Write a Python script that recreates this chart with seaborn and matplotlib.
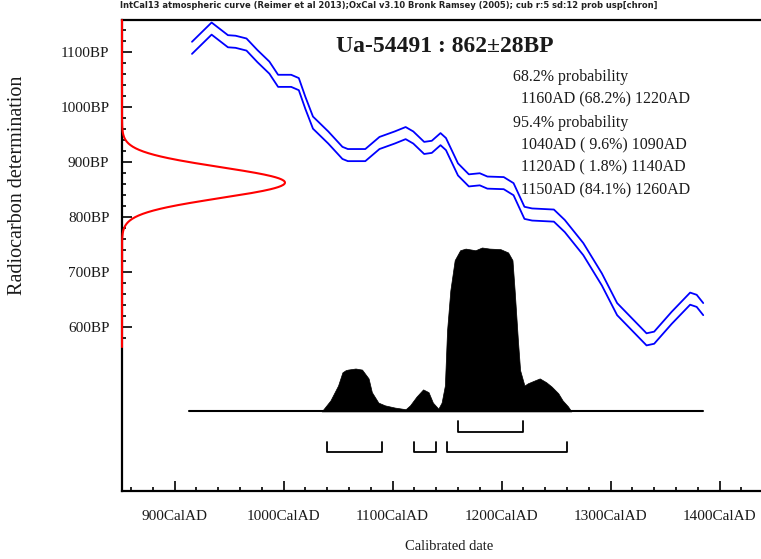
import numpy as np
import pandas as pd
import seaborn as sns
import matplotlib.pyplot as plt

# measurement
lab_code = "Ua-54491"
c14_age = 862
c14_err = 28

# calibration curve (IntCal13)
cal_years = [916, 934, 949, 956, 966, 976, 987, 995, 1007, 1014, 1020, 1027, 1041,
             1054, 1059, 1075, 1088, 1102, 1112, 1119, 1129, 1136, 1144, 1149, 1160,
             1170, 1180, 1187, 1202, 1211, 1221, 1228, 1248, 1258, 1275, 1292, 1306,
             1333, 1340, 1356, 1373, 1379, 1385]
cal_bp = [1107, 1142, 1119, 1118, 1113, 1092, 1071, 1047, 1047, 1041, 1007, 971, 944,
          916, 912, 912, 934, 944, 952, 944, 925, 927, 941, 932, 886,
          866, 868, 862, 861, 850, 807, 804, 802, 783, 741, 686, 632,
          577, 580, 616, 651, 647, 632]
cal_sigma = 11

# calibrated probability distribution (relative height)
post_years = [1035, 1043, 1050, 1054, 1057, 1059, 1066, 1072, 1078, 1081, 1087, 1093,
              1102, 1112, 1116, 1122, 1128, 1133, 1137, 1142, 1145, 1148, 1150, 1153,
              1157, 1162, 1167, 1176, 1182, 1189, 1199, 1206, 1210, 1212, 1215, 1217,
              1221, 1224, 1230, 1235, 1241, 1246, 1252, 1256, 1261, 1264]
post_height = [0, 20, 47, 71, 75, 76, 78, 76, 60, 35, 16, 11,
               7, 4, 11, 27, 40, 35, 16, 5, 16, 47, 147, 220,
               275, 293, 296, 293, 298, 296, 295, 289, 275, 220, 129, 75,
               47, 51, 56, 60, 53, 45, 33, 20, 9, 0]

# ranges
ranges_68 = [(1160, 1220)]
ranges_95 = [(1040, 1090), (1120, 1140), (1150, 1260)]
prob_lines = ["68.2% probability",
              "  1160AD (68.2%) 1220AD",
              "95.4% probability",
              "  1040AD ( 9.6%) 1090AD",
              "  1120AD ( 1.8%) 1140AD",
              "  1150AD (84.1%) 1260AD"]

header = ("IntCal13 atmospheric curve (Reimer et al 2013);OxCal v3.10 Bronk Ramsey (2005); "
          "cub r:5 sd:12 prob usp[chron]")

sns.set_theme(style="white")
plt.rcParams['font.family'] = ['Liberation Serif', 'DejaVu Serif']

W, H = 761, 559
fig = plt.figure(figsize=(W / 100, H / 100), dpi=100)
ax = fig.add_axes([122 / W, 68 / H, 1 - 122 / W, 471 / H])

xmin, xmax = 851.8, 1438
ymin, ymax = 301.3, 1157.6
ax.set_xlim(xmin, xmax)
ax.set_ylim(ymin, ymax)

cal = pd.DataFrame({"year": cal_years, "bp": cal_bp})
cal["upper"] = cal["bp"] + cal_sigma
cal["lower"] = cal["bp"] - cal_sigma
sns.lineplot(data=cal, x="year", y="upper", color="#0000ff", lw=1.3, sort=False, ax=ax)
sns.lineplot(data=cal, x="year", y="lower", color="#0000ff", lw=1.3, sort=False, ax=ax)

# probability distribution
base = 446
post = pd.DataFrame({"year": post_years, "h": post_height})
ax.fill_between(post["year"], base, base + post["h"], color="black", lw=0.5, zorder=3)
ax.plot([913, 1385], [base, base], color="black", lw=1.5, zorder=3)

# range brackets
for lvl, top, rngs in [(409, 429, ranges_68), (373, 390, ranges_95)]:
    for a, b in rngs:
        ax.plot([a, a, b, b], [top, lvl, lvl, top], color="black", lw=1.3)

# radiocarbon age distribution on y axis
bp = np.linspace(563, ymax, 600)
gx = xmin + 149.5 * np.exp(-0.5 * ((bp - c14_age) / c14_err) ** 2)
ax.plot(gx, bp, color="#ff0000", lw=1.5, zorder=6, clip_on=False)

# ticks
ax.set_xticks(range(900, 1401, 100))
ax.set_xticks(range(860, 1421, 20), minor=True)
ax.set_xticklabels([f"{v}CalAD" for v in range(900, 1401, 100)])
ax.set_yticks(range(600, 1101, 100))
ax.set_yticks(range(580, 1141, 20), minor=True)
ax.set_yticklabels([f"{v}BP" for v in range(600, 1101, 100)])
ax.tick_params(which="both", direction="in", color="black", width=1.2,
               left=True, bottom=True, labelsize=11, labelcolor="#1a1a1a")
ax.tick_params(which="major", length=7)
ax.tick_params(which="minor", length=3)
ax.tick_params(axis="x", pad=14)
ax.tick_params(axis="y", pad=9)

for side in ["left", "bottom", "top"]:
    ax.spines[side].set_color("black")
    ax.spines[side].set_linewidth(1.6)
ax.spines["right"].set_visible(False)
ax.grid(False)
ax.set_xlabel("")
ax.set_ylabel("")

# texts
fig.text(445 / W, 1 - 47 / H, f"{lab_code} : {c14_age}\u00b1{c14_err}BP",
         ha="center", va="center", fontsize=17, fontweight="bold", color="#1a1a1a")
line_y = [77, 99, 123, 145, 167, 190]
for t, yy in zip(prob_lines, line_y):
    fig.text(513 / W, 1 - yy / H, t, ha="left", va="center", fontsize=11.5,
             color="#1a1a1a")
fig.text(18 / W, 1 - 185 / H, "Radiocarbon determination", rotation=90,
         ha="center", va="center", fontsize=14.5, color="#1a1a1a")
fig.text(449 / W, 1 - 546 / H, "Calibrated date", ha="center", va="center",
         fontsize=10.5, color="#1a1a1a")
fig.text(120 / W, 1 - 6 / H, header, ha="left", va="center", fontsize=6,
         fontweight="bold", family=["DejaVu Sans"], color="#222222")

fig.savefig("out.png", dpi=100)
